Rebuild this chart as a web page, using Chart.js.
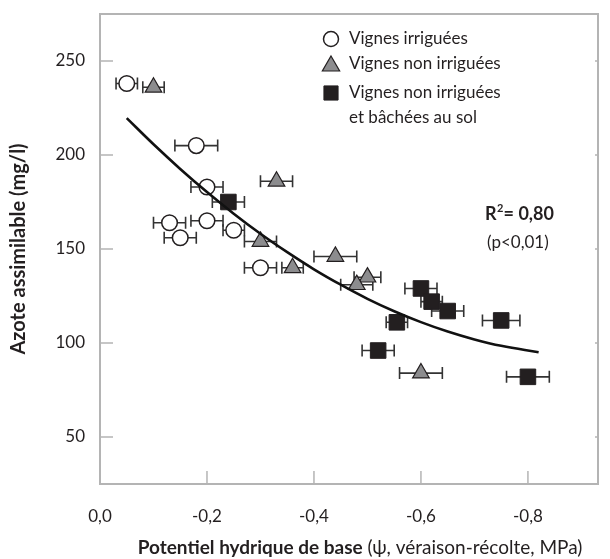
<!DOCTYPE html>
<html>
<head>
<meta charset="utf-8">
<script src="https://cdn.jsdelivr.net/npm/chart.js@4"></script>
<style>
    body { margin: 0; background: #fff; }
    #wrap { width: 610px; height: 559px; }
</style>
</head>
<body>
<div id="wrap"><canvas id="chart-azote"></canvas></div>
<script>
// Vignes irriguées
const irrX = [-0.05, -0.18, -0.20, -0.13, -0.20, -0.25, -0.15, -0.30];
const irrY = [238, 205, 183, 164, 165, 160, 156, 140];
const irrErr = [0.02, 0.04, 0.03, 0.03, 0.03, 0.02, 0.03, 0.03];

// Vignes non irriguées
const nonIrrX = [-0.10, -0.33, -0.30, -0.36, -0.44, -0.50, -0.48, -0.60];
const nonIrrY = [236, 186, 154, 140, 146, 135, 131, 84];
const nonIrrErr = [0.02, 0.03, 0.03, 0.02, 0.04, 0.025, 0.03, 0.04];

// Vignes non irriguées et bâchées au sol
const bachX = [-0.24, -0.60, -0.62, -0.65, -0.555, -0.75, -0.52, -0.80];
const bachY = [175, 129, 122, 117, 111, 112, 96, 82];
const bachErr = [0.03, 0.03, 0.02, 0.03, 0.02, 0.035, 0.03, 0.04];

// courbe de régression
const curveX = [-0.05, -0.10, -0.15, -0.20, -0.25, -0.30, -0.35, -0.40, -0.45, -0.50, -0.55, -0.60, -0.65, -0.70, -0.75, -0.82];
const curveY = [219.6, 205.7, 192.6, 180.3, 168.8, 158.1, 148.3, 139.2, 131.0, 123.5, 116.9, 111.1, 106.1, 101.9, 98.5, 95.1];

const xTicks = [0, -0.2, -0.4, -0.6, -0.8];
const yTicks = [50, 100, 150, 200, 250];

const legendLabels = ['Vignes irriguées', 'Vignes non irriguées', ['Vignes non irriguées', 'et bâchées au sol']];

const FONT = 'Lato, "Noto Sans", sans-serif';
const AXIS_COLOR = '#b4b4b4';
const INK = '#231f20';

const toPoints = (xs, ys) => xs.map((x, i) => ({x: x, y: ys[i]}));

const markerStyles = [
    {pointStyle: 'circle', radius: 7.8, backgroundColor: '#ffffff', borderColor: INK, borderWidth: 1.5},
    {pointStyle: 'triangle', radius: 9.6, backgroundColor: '#8c8c8e', borderColor: INK, borderWidth: 1.2},
    {pointStyle: 'rect', radius: 11, backgroundColor: INK, borderColor: INK, borderWidth: 1}
];

const errors = [irrErr, nonIrrErr, bachErr];

// pas de marge automatique autour des axes : la zone de tracé est fixée par la mise en page
const noPadding = scale => {
    scale.paddingTop = 0;
    scale.paddingBottom = 0;
    scale.paddingLeft = 0;
    scale.paddingRight = 0;
};

// barres d'erreur horizontales, sous les symboles
const errorBars = {
    id: 'errorBars',
    beforeDatasetsDraw(chart) {
        const ctx = chart.ctx;
        const xs = chart.scales.x;
        const ys = chart.scales.y;
        ctx.save();
        ctx.strokeStyle = '#333';
        ctx.lineWidth = 1.6;
        errors.forEach((errs, d) => {
            chart.data.datasets[d].data.forEach((p, i) => {
                const x1 = xs.getPixelForValue(p.x - errs[i]);
                const x2 = xs.getPixelForValue(p.x + errs[i]);
                const py = ys.getPixelForValue(p.y);
                ctx.beginPath();
                ctx.moveTo(x1, py);
                ctx.lineTo(x2, py);
                ctx.moveTo(x1, py - 6);
                ctx.lineTo(x1, py + 6);
                ctx.moveTo(x2, py - 6);
                ctx.lineTo(x2, py + 6);
                ctx.stroke();
            });
        });
        ctx.restore();
    }
};

// cadre, graduations intérieures, légende, textes
const decorations = {
    id: 'decorations',
    afterDraw(chart) {
        const ctx = chart.ctx;
        const area = chart.chartArea;
        const xs = chart.scales.x;
        const ys = chart.scales.y;
        ctx.save();

        // cadre haut et droite
        ctx.strokeStyle = AXIS_COLOR;
        ctx.lineWidth = 2;
        ctx.beginPath();
        ctx.moveTo(area.left, area.top);
        ctx.lineTo(area.right, area.top);
        ctx.lineTo(area.right, area.bottom);
        ctx.stroke();

        // graduations vers l'intérieur
        ctx.lineWidth = 1.5;
        ctx.beginPath();
        xTicks.slice(1).forEach(v => {
            const px = xs.getPixelForValue(v);
            ctx.moveTo(px, area.bottom);
            ctx.lineTo(px, area.bottom - 13);
        });
        yTicks.forEach(v => {
            const py = ys.getPixelForValue(v);
            ctx.moveTo(area.left, py);
            ctx.lineTo(area.left + 13, py);
            ctx.moveTo(area.right, py);
            ctx.lineTo(area.right - 3, py);
        });
        ctx.stroke();

        // légende
        ctx.font = '17px ' + FONT;
        ctx.textBaseline = 'middle';
        ctx.textAlign = 'left';
        const legendRows = [39, 64, 93];
        legendLabels.forEach((label, i) => {
            const st = markerStyles[i];
            ctx.fillStyle = st.backgroundColor;
            ctx.strokeStyle = st.borderColor;
            ctx.lineWidth = st.borderWidth;
            const r = i === 0 ? 7.5 : 10;
            Chart.helpers.drawPoint(ctx, {pointStyle: st.pointStyle, radius: r, rotation: 0, borderWidth: st.borderWidth}, 331, legendRows[i] + (i === 1 ? 2 : 0));
            ctx.fillStyle = INK;
            const lines = Array.isArray(label) ? label : [label];
            lines.forEach((t, k) => ctx.fillText(t, 349, legendRows[i] + k * 25));
        });

        // R²
        ctx.font = 'bold 18px ' + FONT;
        ctx.fillText('R', 485, 214);
        const rw = ctx.measureText('R').width;
        ctx.font = 'bold 11px ' + FONT;
        ctx.fillText('2', 485 + rw + 0.5, 208);
        ctx.font = 'bold 18px ' + FONT;
        ctx.fillText('= 0,80', 485 + rw + 7, 214);
        ctx.font = '17px ' + FONT;
        ctx.fillText('(p<0,01)', 487, 243);

        // titre axe x : partie grasse + partie normale
        const boldPart = 'Potentiel hydrique de base';
        const normPart = ' (\u03C8, véraison-récolte, MPa)';
        ctx.font = 'bold 19px ' + FONT;
        const bw = ctx.measureText(boldPart).width;
        ctx.font = '19px ' + FONT;
        const nw = ctx.measureText(normPart).width;
        const startX = 360 - (bw + nw) / 2;
        ctx.font = 'bold 19px ' + FONT;
        ctx.fillText(boldPart, startX, 548);
        ctx.font = '19px ' + FONT;
        ctx.fillText(normPart, startX + bw, 548);

        ctx.restore();
    }
};

new Chart(document.getElementById('chart-azote'), {
    type: 'scatter',
    data: {
        datasets: [
            {
                label: 'Vignes irriguées',
                data: toPoints(irrX, irrY),
                pointStyle: markerStyles[0].pointStyle,
                pointRadius: markerStyles[0].radius,
                pointBackgroundColor: markerStyles[0].backgroundColor,
                pointBorderColor: markerStyles[0].borderColor,
                pointBorderWidth: markerStyles[0].borderWidth,
                order: 2
            },
            {
                label: 'Vignes non irriguées',
                data: toPoints(nonIrrX, nonIrrY),
                pointStyle: markerStyles[1].pointStyle,
                pointRadius: markerStyles[1].radius,
                pointBackgroundColor: markerStyles[1].backgroundColor,
                pointBorderColor: markerStyles[1].borderColor,
                pointBorderWidth: markerStyles[1].borderWidth,
                order: 2
            },
            {
                label: 'Vignes non irriguées et bâchées au sol',
                data: toPoints(bachX, bachY),
                pointStyle: markerStyles[2].pointStyle,
                pointRadius: markerStyles[2].radius,
                pointBackgroundColor: markerStyles[2].backgroundColor,
                pointBorderColor: markerStyles[2].borderColor,
                pointBorderWidth: markerStyles[2].borderWidth,
                order: 2
            },
            {
                type: 'line',
                label: 'Régression',
                data: toPoints(curveX, curveY),
                borderColor: '#111',
                borderWidth: 2.6,
                pointRadius: 0,
                tension: 0.4,
                fill: false,
                order: 1
            }
        ]
    },
    options: {
        responsive: true,
        maintainAspectRatio: false,
        animation: false,
        layout: {padding: {left: 0, top: 14, right: 1, bottom: 0}},
        plugins: {
            legend: {display: false},
            tooltip: {enabled: false},
            title: {display: false}
        },
        scales: {
            x: {
                type: 'linear',
                reverse: true,
                min: -0.931,
                max: 0,
                afterFit: scale => { scale.height = 75; noPadding(scale); },
                afterBuildTicks: scale => { scale.ticks = xTicks.map(v => ({value: v})); },
                grid: {display: false, drawTicks: false},
                border: {display: true, color: AXIS_COLOR, width: 2},
                ticks: {
                    padding: 22,
                    color: INK,
                    font: {family: FONT, size: 17},
                    callback: v => (v === 0 ? '0,0' : v.toFixed(1).replace('.', ','))
                }
            },
            y: {
                type: 'linear',
                min: 25,
                max: 275,
                afterFit: scale => { scale.width = 100; noPadding(scale); },
                afterBuildTicks: scale => { scale.ticks = yTicks.map(v => ({value: v})); },
                grid: {display: false, drawTicks: false},
                border: {display: true, color: AXIS_COLOR, width: 2},
                ticks: {
                    padding: 15,
                    color: INK,
                    font: {family: FONT, size: 17}
                },
                title: {
                    display: true,
                    text: 'Azote assimilable (mg/l)',
                    color: INK,
                    font: {family: FONT, size: 20, weight: 'bold'},
                    padding: {top: 7, bottom: 0}
                }
            }
        }
    },
    plugins: [errorBars, decorations]
});
</script>
</body>
</html>
